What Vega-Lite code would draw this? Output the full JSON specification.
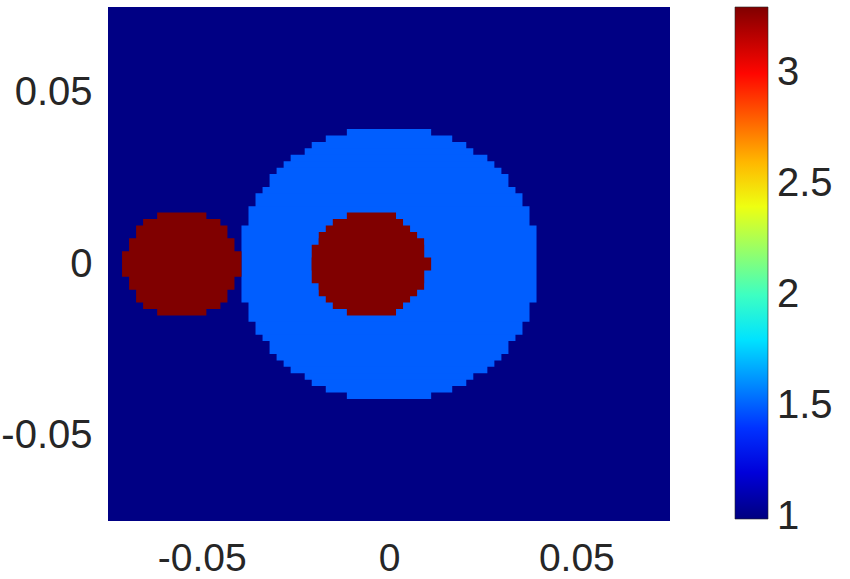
{
  "$schema": "https://vega.github.io/schema/vega-lite/v6.json",
  "width": 562,
  "height": 514,
  "autosize": "none",
  "padding": {"left": 108, "top": 7, "right": 180, "bottom": 58},
  "background": "white",
  "config": {"view": {"stroke": null}, "font": "Liberation Sans"},
  "data": {"values": [
    {"x1": -0.075, "x2": 0.075, "y1": -0.075, "y2": 0.075, "v": 1},

    {"x1": -0.01125, "x2": 0.01125, "y1": -0.039375, "y2": 0.039375, "v": 1.5},
    {"x1": -0.016875, "x2": 0.016875, "y1": -0.0375, "y2": 0.0375, "v": 1.5},
    {"x1": -0.020625, "x2": 0.020625, "y1": -0.035625, "y2": 0.035625, "v": 1.5},
    {"x1": -0.0225, "x2": 0.0225, "y1": -0.03375, "y2": 0.03375, "v": 1.5},
    {"x1": -0.02625, "x2": 0.02625, "y1": -0.031875, "y2": 0.031875, "v": 1.5},
    {"x1": -0.028125, "x2": 0.028125, "y1": -0.03, "y2": 0.03, "v": 1.5},
    {"x1": -0.03, "x2": 0.03, "y1": -0.028125, "y2": 0.028125, "v": 1.5},
    {"x1": -0.031875, "x2": 0.031875, "y1": -0.02625, "y2": 0.02625, "v": 1.5},
    {"x1": -0.03375, "x2": 0.03375, "y1": -0.0225, "y2": 0.0225, "v": 1.5},
    {"x1": -0.035625, "x2": 0.035625, "y1": -0.020625, "y2": 0.020625, "v": 1.5},
    {"x1": -0.0375, "x2": 0.0375, "y1": -0.016875, "y2": 0.016875, "v": 1.5},
    {"x1": -0.039375, "x2": 0.039375, "y1": -0.01125, "y2": 0.01125, "v": 1.5},

    {"x1": -0.01125, "x2": 0.001875, "y1": -0.015, "y2": 0.015, "v": 3.3},
    {"x1": -0.015, "x2": 0.00375, "y1": -0.013125, "y2": 0.013125, "v": 3.3},
    {"x1": -0.016875, "x2": 0.005625, "y1": -0.01125, "y2": 0.01125, "v": 3.3},
    {"x1": -0.01875, "x2": 0.0075, "y1": -0.009375, "y2": 0.009375, "v": 3.3},
    {"x1": -0.01875, "x2": 0.009375, "y1": -0.0075, "y2": 0.0075, "v": 3.3},
    {"x1": -0.020625, "x2": 0.009375, "y1": -0.005625, "y2": 0.005625, "v": 3.3},
    {"x1": -0.020625, "x2": 0.01125, "y1": -0.001875, "y2": 0.001875, "v": 3.3},

    {"x1": -0.061875, "x2": -0.04875, "y1": -0.015, "y2": 0.015, "v": 3.3},
    {"x1": -0.065625, "x2": -0.045, "y1": -0.013125, "y2": 0.013125, "v": 3.3},
    {"x1": -0.0675, "x2": -0.043125, "y1": -0.01125, "y2": 0.01125, "v": 3.3},
    {"x1": -0.069375, "x2": -0.04125, "y1": -0.0075, "y2": 0.0075, "v": 3.3},
    {"x1": -0.07125, "x2": -0.039375, "y1": -0.00375, "y2": 0.00375, "v": 3.3}
  ]},
  "mark": {"type": "rect"},
  "encoding": {
    "x": {
      "field": "x1", "type": "quantitative",
      "scale": {"domain": [-0.075, 0.075], "nice": false, "zero": false},
      "axis": {
        "title": null, "values": [-0.05, 0, 0.05],
        "labelExpr": "datum.value < 0 ? '-' + format(-datum.value, '.2f') : (datum.value == 0 ? '0' : format(datum.value, '.2f'))",
        "labelFontSize": 39, "labelColor": "#262626", "labelFont": "Liberation Sans",
        "ticks": false, "domain": false, "grid": false, "labelPadding": 18, "labelFlush": false
      }
    },
    "x2": {"field": "x2"},
    "y": {
      "field": "y1", "type": "quantitative",
      "scale": {"domain": [-0.075, 0.075], "nice": false, "zero": false},
      "axis": {
        "title": null, "values": [-0.05, 0, 0.05],
        "labelExpr": "datum.value < 0 ? '-' + format(-datum.value, '.2f') : (datum.value == 0 ? '0' : format(datum.value, '.2f'))",
        "labelFontSize": 40, "labelColor": "#262626", "labelFont": "Liberation Sans",
        "ticks": false, "domain": false, "grid": false, "labelPadding": 16, "labelFlush": false
      }
    },
    "y2": {"field": "y2"},
    "color": {
      "field": "v", "type": "quantitative",
      "scale": {
        "domain": [0.99, 1.2875, 1.8625, 2.4375, 3.0125, 3.3],
        "range": ["#000080", "#0000ff", "#00ffff", "#ffff00", "#ff0000", "#800000"],
        "interpolate": "rgb"
      },
      "legend": {
        "title": null, "orient": "right", "offset": 65, "padding": 0,
        "type": "gradient", "direction": "vertical",
        "gradientLength": 512, "gradientThickness": 33,
        "gradientStrokeColor": "#262626", "gradientStrokeWidth": 0.6,
        "values": [1, 1.5, 2, 2.5, 3], "format": "~g",
        "labelFontSize": 40, "labelColor": "#262626", "labelFont": "Liberation Sans",
        "labelOffset": 9, "labelBaseline": "middle", "labelOverlap": false
      }
    }
  }
}
